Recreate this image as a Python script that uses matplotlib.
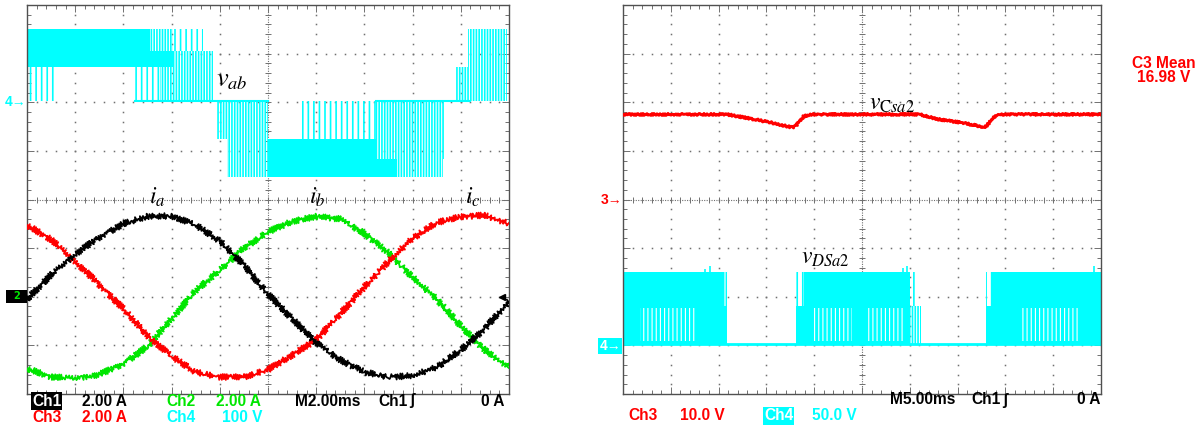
import numpy as np
import matplotlib
matplotlib.use("Agg")
import matplotlib.pyplot as plt
from matplotlib.patches import Rectangle

plt.rcParams['mathtext.fontset'] = 'stix'
plt.rcParams['hatch.linewidth'] = 1.2

# ---------------- data: left screen (2 ms/div) ----------------
t_cur = [0, 1, 2, 3, 4, 5, 6, 7, 8, 9, 10, 11, 12, 13, 14, 15, 16, 17, 18, 19, 20]  # ms
ia = [-0.1, 0.9, 1.75, 2.45, 3.0, 3.3, 3.33, 2.95, 2.3, 1.3, 0.1, -0.9, -1.9, -2.6, -3.1,
      -3.3, -3.25, -2.9, -2.2, -1.3, -0.2]
ib = [-2.95, -3.3, -3.35, -3.2, -2.75, -2.05, -0.9, 0.25, 1.1, 2.0, 2.67, 3.1, 3.3, 3.2,
      2.6, 1.8, 0.8, -0.1, -1.2, -2.2, -2.9]
ic = [2.95, 2.35, 1.45, 0.5, -0.5, -1.6, -2.45, -3.1, -3.3, -3.3, -3.0, -2.4, -1.77, -0.7,
      0.4, 1.45, 2.4, 3.05, 3.3, 3.35, 3.0]

# v_ab PWM bands (ms, volts)
vab_t0 = [0.0, 0.0, 0.0, 5.1, 6.06, 4.5, 5.5, 6.06, 7.9, 8.3, 10.0, 10.0, 14.5, 11.4, 14.5, 15.35, 17.76, 18.3]
vab_t1 = [5.1, 6.06, 1.1, 6.06, 7.3, 5.5, 7.7, 7.7, 10.0, 10.0, 15.35, 14.5, 17.3, 14.5, 17.3, 17.26, 19.92, 19.92]
vab_lo = [103, 70, 0, 103, 103, 0, 0, 70, -78, -156, -156, -119, -119, -78, -78, -156, 0, 70]
vab_hi = [148, 103, 70, 148, 148, 70, 70, 103, 0, -78, -119, -78, -78, 0, 0, -119, 70, 148]
vab_kind = ['solid', 'solid', 'sparse', 'dense', 'sparse', 'sparse', 'dense', 'dense', 'dense',
            'dense', 'solid', 'solid', 'dense', 'sparse', 'dense', 'dense', 'dense', 'dense']
vab_zero_t0 = [4.5, 14.5]
vab_zero_t1 = [10.0, 18.4]

# ---------------- data: right screen (5 ms/div) ----------------
t_csa = [0, 10.9, 13.7, 15.3, 17.7, 18.1, 18.9, 19.6, 31.0, 33.0, 35.4, 37.5, 37.9, 38.8, 39.4, 50]
v_csa = [17.5, 17.5, 16.5, 15.9, 14.8, 15.2, 17.1, 17.5, 17.5, 16.5, 15.8, 15.0, 14.9, 16.9, 17.5, 17.5]

vds_t0 = [0.0, 10.6, 0.0, 18.1, 18.9, 30.0, 18.1, 30.0, 38.0, 38.6, 38.0]
vds_t1 = [10.6, 10.9, 10.9, 18.9, 30.0, 30.6, 30.0, 31.2, 38.6, 50.0, 50.0]
vds_lo = [39, 39, 0, 39, 39, 39, 0, 0, 39, 39, 0]
vds_hi = [74, 74, 39, 74, 74, 74, 39, 39, 74, 74, 39]
vds_kind = ['solid', 'dense', 'solid', 'sparse', 'solid', 'sparse', 'solid', 'dense', 'sparse', 'solid', 'solid']
vds_gap_t0 = [1.8, 19.9, 25.5, 41.6]
vds_gap_t1 = [7.6, 24.0, 29.4, 47.7]
vds_spike_t = [8.6, 9.1, 29.3, 29.7, 49.3]
vds_spike_v = [78, 81, 79, 81, 81]

# channel scales / reference positions (div)
I_SCALE, I_REF = 2.0, -2.0
VAB_SCALE, VAB_REF = 100.0, 2.02
C3_SCALE, C3_REF = 10.0, 0.0
C4_SCALE, C4_REF = 50.0, -2.98

CYAN, RED, GREEN, BLACK = '#00FFFF', '#FF0000', '#00E600', '#000000'
GRID = '#707070'

W, H = 1201, 428
fig = plt.figure(figsize=(W / 100, H / 100), dpi=100)


def px_ax(x0, y0, x1, y1):
    return fig.add_axes([x0 / W, 1 - y1 / H, (x1 - x0) / W, (y1 - y0) / H])


def scope_axes(ax, msdiv):
    ax.set_xlim(0, 10 * msdiv)
    ax.set_ylim(-4, 4)
    ax.set_xticks(np.arange(0, 10.01, 1) * msdiv)
    ax.set_xticks(np.arange(0, 10.01, 0.2) * msdiv, minor=True)
    ax.set_yticks(np.arange(-4, 4.01, 1))
    ax.set_yticks(np.arange(-4, 4.01, 0.2), minor=True)
    ax.tick_params(which='both', direction='in', top=True, right=True, labelleft=False,
                   labelbottom=False, color=GRID, width=0.7)
    ax.tick_params(which='major', length=5)
    ax.tick_params(which='minor', length=3)
    for s in ax.spines.values():
        s.set_color('#505050')
        s.set_linewidth(1.0)
    # dotted graticule
    xs_f = np.arange(0, 10.01, 0.2) * msdiv
    ys_f = np.arange(-4, 4.01, 0.2)
    for gx in range(1, 10):
        if gx == 5:
            continue
        ax.plot(np.full_like(ys_f, gx * msdiv), ys_f, ls='none', marker='s', ms=1.1,
                color=GRID, mew=0, zorder=0.5)
    for gy in range(-3, 4):
        if gy == 0:
            continue
        ax.plot(xs_f, np.full_like(xs_f, gy), ls='none', marker='s', ms=1.1,
                color=GRID, mew=0, zorder=0.5)
    # central crosshair with minor ticks
    ax.axvline(5 * msdiv, color=GRID, lw=0.8, ls=(0, (1, 1.2)), zorder=0.5)
    ax.axhline(0, color=GRID, lw=0.8, ls=(0, (1, 1.2)), zorder=0.5)
    ax.plot(xs_f, np.zeros_like(xs_f), ls='none', marker='|', ms=5, mew=0.7, color=GRID, zorder=0.5)
    ax.plot(np.full_like(ys_f, 5 * msdiv), ys_f, ls='none', marker='_', ms=5, mew=0.7,
            color=GRID, zorder=0.5)


HATCH = {'dense': '||||||', 'sparse': '|||'}


def band(ax, t0, t1, lo, hi, kind, color):
    if kind == 'solid':
        ax.fill_between([t0, t1], [lo, lo], [hi, hi], color=color, lw=0, zorder=2)
    else:
        ax.fill_between([t0, t1], [lo, lo], [hi, hi], facecolor='none', edgecolor=color,
                        hatch=HATCH[kind], lw=0, zorder=2)


# ---------------- left screen ----------------
axL = px_ax(27, 5, 509, 394)
scope_axes(axL, 2.0)

for t0, t1, lo, hi, k in zip(vab_t0, vab_t1, vab_lo, vab_hi, vab_kind):
    band(axL, t0, t1, lo / VAB_SCALE + VAB_REF, hi / VAB_SCALE + VAB_REF, k, CYAN)
for t0, t1 in zip(vab_zero_t0, vab_zero_t1):
    axL.plot([t0, t1], [VAB_REF, VAB_REF], color=CYAN, lw=1.5, zorder=2)

for data, col in [(ib, GREEN), (ic, RED), (ia, BLACK)]:
    ln, = axL.plot(t_cur, np.array(data) / I_SCALE + I_REF, color=col, lw=1.3, zorder=3)
    ln.set_sketch_params(scale=3.0, length=2.2, randomness=1.5)

axL.plot([0.985], [0.25], marker='<', ms=5, color=BLACK, transform=axL.transAxes, clip_on=False, zorder=4)

# ---------------- right screen ----------------
axR = px_ax(623, 5, 1101, 394)
scope_axes(axR, 5.0)

axR.plot([0, 50], [C4_REF, C4_REF], color=CYAN, lw=2.0, zorder=2)
for t0, t1, lo, hi, k in zip(vds_t0, vds_t1, vds_lo, vds_hi, vds_kind):
    band(axR, t0, t1, lo / C4_SCALE + C4_REF, hi / C4_SCALE + C4_REF, k, CYAN)
with plt.rc_context({'hatch.linewidth': 0.8}):
    for t0, t1 in zip(vds_gap_t0, vds_gap_t1):
        axR.fill_between([t0, t1], [3 / C4_SCALE + C4_REF] * 2, [37 / C4_SCALE + C4_REF] * 2,
                         facecolor='none', edgecolor='white', hatch='||||', lw=0, zorder=2.1)
axR.vlines(vds_spike_t, 74 / C4_SCALE + C4_REF, np.array(vds_spike_v) / C4_SCALE + C4_REF,
           color=CYAN, lw=1.2, zorder=2)

ln, = axR.plot(t_csa, np.array(v_csa) / C3_SCALE + C3_REF, color=RED, lw=2.1, zorder=3)
ln.set_sketch_params(scale=1.0, length=3.0, randomness=2.0)

# ---------------- labels ----------------
def ftext(x, y, s, **kw):
    return fig.text(x / W, 1 - y / H, s, **kw)

ftext(216, 79, r'$v_{ab}$', fontsize=19, ha='left', va='center')
ftext(149, 197, r'$i_a$', fontsize=17, ha='left', va='center')
ftext(309, 197, r'$i_b$', fontsize=17, ha='left', va='center')
ftext(465, 197, r'$i_c$', fontsize=17, ha='left', va='center')
ftext(869, 103, r'$v_{\mathrm{C}sa2}$', fontsize=17, ha='left', va='center')
ftext(801, 257, r'$v_{DSa2}$', fontsize=17, ha='left', va='center')

SF = dict(family=['Liberation Sans', 'DejaVu Sans'], fontweight='bold', fontsize=11.2,
          ha='left', va='center')
box = lambda c: dict(boxstyle='square,pad=0.08', fc=c, ec='none')

# left footer
ftext(32, 401, 'Ch1', color='white', bbox=box(BLACK), **SF)
ftext(82, 401, '2.00 A', color=BLACK, **SF)
ftext(166, 401, 'Ch2', color=GREEN, **SF)
ftext(216, 401, '2.00 A', color=GREEN, **SF)
ftext(295, 401, 'M2.00ms', color=BLACK, **SF)
ftext(378, 401, 'Ch1', color=BLACK, **SF)
ftext(409, 401, 'ʃ', color=BLACK, **SF)
ftext(481, 401, '0 A', color=BLACK, **SF)
ftext(32, 417, 'Ch3', color=RED, **SF)
ftext(82, 417, '2.00 A', color=RED, **SF)
ftext(166, 417, 'Ch4', color=CYAN, **SF)
ftext(222, 417, '100 V', color=CYAN, **SF)

# right footer
ftext(890, 400, 'M5.00ms', color=BLACK, **SF)
ftext(971, 400, 'Ch1', color=BLACK, **SF)
ftext(1002, 400, 'ʃ', color=BLACK, **SF)
ftext(1077, 400, '0 A', color=BLACK, **SF)
ftext(628, 416, 'Ch3', color=RED, **SF)
ftext(680, 416, '10.0 V', color=RED, **SF)
ftext(764, 416, 'Ch4', color='white', bbox=box(CYAN), **SF)
ftext(812, 416, '50.0 V', color=CYAN, **SF)

# measurement readout
ftext(1164, 63, 'C3 Mean', color=RED, family=['Liberation Sans', 'DejaVu Sans'],
      fontweight='bold', fontsize=11.2, ha='center', va='center')
ftext(1164, 78, '16.98 V', color=RED, family=['Liberation Sans', 'DejaVu Sans'],
      fontweight='bold', fontsize=11.2, ha='center', va='center')

# reference markers
MK = dict(family=['Liberation Sans', 'DejaVu Sans'], fontweight='bold', fontsize=10,
          ha='right', va='center')
ftext(26, 102, '4→', color=CYAN, **MK)
fig.patches.append(Rectangle((6 / W, 1 - 303 / H), 21 / W, 13 / H, transform=fig.transFigure,
                             fc=BLACK, ec='none'))
ftext(17, 296, '2', color=GREEN, fontsize=7, ha='center', va='center', fontweight='bold')
ftext(622, 200, '3→', color=RED, **MK)
ftext(621, 346, '4→', color='white', bbox=box(CYAN), **MK)

fig.savefig('out.png', dpi=100, facecolor='white')
